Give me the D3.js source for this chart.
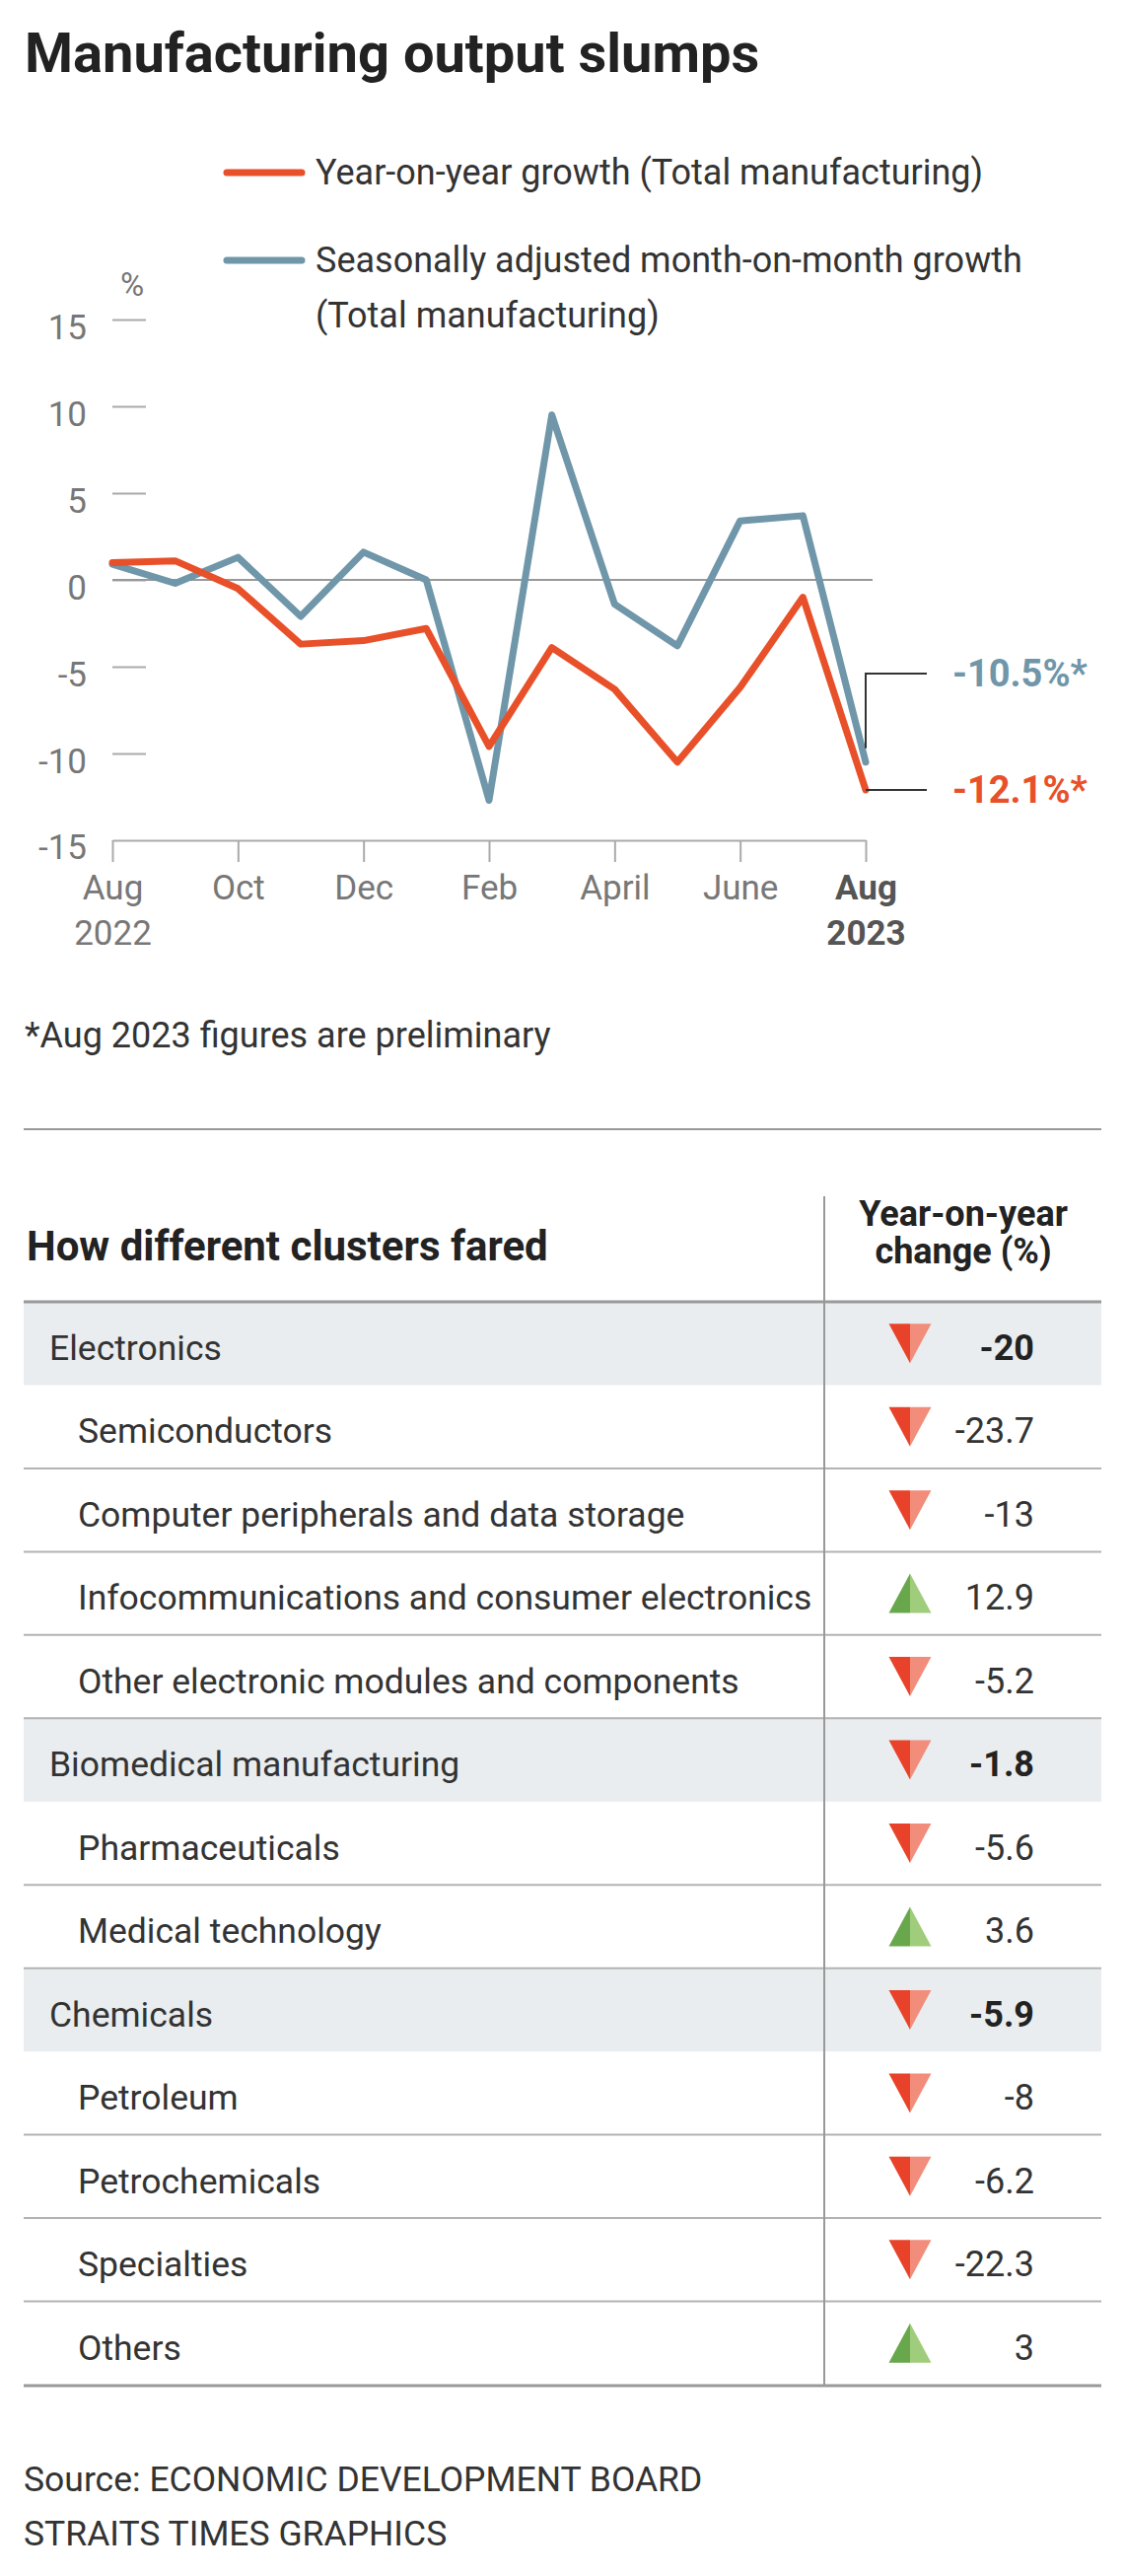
<!DOCTYPE html>
<html>
<head>
<meta charset="utf-8">
<script src="https://cdn.jsdelivr.net/npm/d3@7"></script>
<style>
  body { margin: 0; background: #fff; }
  text { font-family: Roboto, "Noto Sans", sans-serif; }
</style>
</head>
<body>
<svg id="chart" width="1140" height="2612"></svg>
<script>
// dati
const months = ["2022-08", "2022-09", "2022-10", "2022-11", "2022-12", "2023-01", "2023-02",
                "2023-03", "2023-04", "2023-05", "2023-06", "2023-07", "2023-08"];
const yoyGrowth = [1.0, 1.1, -0.5, -3.7, -3.5, -2.8, -9.6, -3.9, -6.3, -10.5, -6.2, -1.0, -12.1];
const momGrowth = [0.9, -0.2, 1.3, -2.1, 1.6, 0.0, -12.7, 9.5, -1.4, -3.8, 3.4, 3.7, -10.5];
const yTicks = [15, 10, 5, 0, -5, -10];
const xTickMonths = ["2022-08", "2022-10", "2022-12", "2023-02", "2023-04", "2023-06", "2023-08"];
const xTickLabels = [["Aug", "2022"], ["Oct"], ["Dec"], ["Feb"], ["April"], ["June"], ["Aug", "2023"]];

const clusters = ["Electronics", "Semiconductors", "Computer peripherals and data storage",
                  "Infocommunications and consumer electronics", "Other electronic modules and components",
                  "Biomedical manufacturing", "Pharmaceuticals", "Medical technology",
                  "Chemicals", "Petroleum", "Petrochemicals", "Specialties", "Others"];
const changes = [-20, -23.7, -13, 12.9, -5.2, -1.8, -5.6, 3.6, -5.9, -8, -6.2, -22.3, 3];
const isCluster = [true, false, false, false, false, true, false, false, true, false, false, false, false];

const ORANGE = "#e8502a";
const BLUE = "#6f96a9";

// numeri col trattino normale, come nell'originale
const fmt = v => String(v);
const fmt1 = v => v.toFixed(1);

const svg = d3.select("#chart");
svg.append("rect").attr("width", 1140).attr("height", 2612).attr("fill", "#fff");

/* titolo */
svg.append("text")
    .attr("x", 25).attr("y", 73)
    .attr("font-size", 56).attr("font-weight", 700).attr("fill", "#222")
    .text("Manufacturing output slumps");

/* legenda */
const legend = svg.append("g");
const legendItems = [
    { color: ORANGE, y: 175, lines: ["Year-on-year growth (Total manufacturing)"] },
    { color: BLUE, y: 264, lines: ["Seasonally adjusted month-on-month growth", "(Total manufacturing)"] }
];
legendItems.forEach(item => {
    legend.append("line")
        .attr("x1", 230).attr("x2", 306)
        .attr("y1", item.y).attr("y2", item.y)
        .attr("stroke", item.color).attr("stroke-width", 7).attr("stroke-linecap", "round");
    item.lines.forEach((l, i) => {
        legend.append("text")
            .attr("x", 320).attr("y", item.y + 12 + i * 56)
            .attr("font-size", 36).attr("fill", "#333")
            .text(l);
    });
});

/* scale */
const x = d3.scalePoint().domain(months).range([114, 878]);
const y = d3.scaleLinear().domain([-15, 15]).range([852, 324]);

/* asse Y: trattini corti e etichette */
const yAxis = svg.append("g")
    .attr("transform", "translate(114,0)")
    .call(d3.axisRight(y).tickValues(yTicks).tickSize(34).tickFormat(fmt));
yAxis.select(".domain").remove();
yAxis.selectAll(".tick line").attr("stroke", "#aaa").attr("stroke-width", 2);
yAxis.selectAll(".tick text")
    .attr("x", -26).attr("dy", "0.55em")
    .attr("text-anchor", "end")
    .attr("font-size", 35).attr("fill", "#777")
    .attr("font-family", "Roboto, sans-serif");

// etichetta -15 allineata all'asse X
svg.append("text")
    .attr("x", 88).attr("y", y(-15) + 19)
    .attr("text-anchor", "end").attr("font-size", 35).attr("fill", "#777")
    .text(fmt(-15));

svg.append("text")
    .attr("x", 134).attr("y", 300)
    .attr("text-anchor", "middle").attr("font-size", 33).attr("fill", "#777")
    .text("%");

/* asse X */
const xAxis = svg.append("g")
    .attr("transform", `translate(0,${y(-15)})`)
    .call(d3.axisBottom(x).tickValues(xTickMonths).tickSize(22).tickSizeOuter(0).tickFormat(""));
xAxis.select(".domain").attr("stroke", "#aaa").attr("stroke-width", 2);
xAxis.selectAll(".tick line").attr("stroke", "#aaa").attr("stroke-width", 2);
xAxis.selectAll(".tick").each(function (d, i) {
    const lbl = xTickLabels[i];
    const last = i === xTickLabels.length - 1;
    const t = d3.select(this).append("text")
        .attr("text-anchor", "middle")
        .attr("font-size", 35)
        .attr("font-weight", last ? 700 : 400)
        .attr("fill", last ? "#555" : "#777");
    lbl.forEach((s, j) => {
        t.append("tspan").attr("x", 0).attr("y", 60 + j * 46).text(s);
    });
});

/* linea dello zero */
svg.append("line")
    .attr("x1", 114).attr("x2", 885)
    .attr("y1", y(0)).attr("y2", y(0))
    .attr("stroke", "#999").attr("stroke-width", 2);

/* serie */
const line = d3.line()
    .x((d, i) => x(months[i]))
    .y(d => y(d));

svg.append("path")
    .datum(momGrowth)
    .attr("d", line)
    .attr("fill", "none").attr("stroke", BLUE)
    .attr("stroke-width", 7).attr("stroke-linejoin", "round").attr("stroke-linecap", "round");

svg.append("path")
    .datum(yoyGrowth)
    .attr("d", line)
    .attr("fill", "none").attr("stroke", ORANGE)
    .attr("stroke-width", 7).attr("stroke-linejoin", "round").attr("stroke-linecap", "round");

/* etichette finali con linee guida */
const lastMonth = months[months.length - 1];
const lastMom = momGrowth[momGrowth.length - 1];
const lastYoy = yoyGrowth[yoyGrowth.length - 1];
const xe = x(lastMonth);
const blueLabelY = y(-5.4);

svg.append("path")
    .attr("d", `M${xe},${y(lastMom) - 14}V${blueLabelY}H${xe + 62}`)
    .attr("fill", "none").attr("stroke", "#333").attr("stroke-width", 2);
svg.append("path")
    .attr("d", `M${xe},${y(lastYoy)}H${xe + 62}`)
    .attr("fill", "none").attr("stroke", "#333").attr("stroke-width", 2);

svg.append("text")
    .attr("x", 966).attr("y", blueLabelY + 13)
    .attr("font-size", 38).attr("font-weight", 700).attr("fill", BLUE)
    .text(`${fmt1(lastMom)}%*`);
svg.append("text")
    .attr("x", 966).attr("y", y(lastYoy) + 13)
    .attr("font-size", 38).attr("font-weight", 700).attr("fill", ORANGE)
    .text(`${fmt1(lastYoy)}%*`);

/* nota */
svg.append("text")
    .attr("x", 25).attr("y", 1062)
    .attr("font-size", 36).attr("fill", "#333")
    .text("*Aug 2023 figures are preliminary");

svg.append("line")
    .attr("x1", 24).attr("x2", 1117).attr("y1", 1145).attr("y2", 1145)
    .attr("stroke", "#999").attr("stroke-width", 2);

/* tabella */
const rows = d3.scaleBand().domain(clusters).range([1320, 2418]);
const table = svg.append("g");

table.append("text")
    .attr("x", 27).attr("y", 1278)
    .attr("font-size", 42).attr("font-weight", 700).attr("fill", "#222")
    .text("How different clusters fared");

const head = table.append("text")
    .attr("text-anchor", "middle")
    .attr("font-size", 36).attr("font-weight", 700).attr("fill", "#222");
head.append("tspan").attr("x", 977).attr("y", 1243).text("Year-on-year");
head.append("tspan").attr("x", 977).attr("y", 1281).text("change (%)");

const row = table.selectAll(".row")
    .data(clusters)
    .enter()
    .append("g")
    .attr("class", "row")
    .attr("transform", d => `translate(0,${rows(d)})`);

row.filter((d, i) => isCluster[i])
    .append("rect")
    .attr("x", 24).attr("width", 1093)
    .attr("height", rows.bandwidth())
    .attr("fill", "#e9edef");

// separatori, tranne sotto le righe evidenziate
row.filter((d, i) => i > 0 && !isCluster[i - 1])
    .append("line")
    .attr("x1", 24).attr("x2", 1117)
    .attr("stroke", "#b3b3b3").attr("stroke-width", 2);

row.append("text")
    .attr("x", (d, i) => isCluster[i] ? 50 : 79)
    .attr("y", 59)
    .attr("font-size", 35.5).attr("fill", "#333")
    .text(d => d);

row.each(function (d, i) {
    const g = d3.select(this);
    const cx = 923, cy = rows.bandwidth() / 2, hw = 21.5, hh = 20;
    const down = changes[i] < 0;
    if (down) {
        g.append("path").attr("d", `M${cx - hw},${cy - hh}L${cx},${cy - hh}L${cx},${cy + hh}Z`).attr("fill", "#e8432a");
        g.append("path").attr("d", `M${cx},${cy - hh}L${cx + hw},${cy - hh}L${cx},${cy + hh}Z`).attr("fill", "#f28d7b");
    } else {
        g.append("path").attr("d", `M${cx - hw},${cy + hh}L${cx},${cy + hh}L${cx},${cy - hh}Z`).attr("fill", "#69a74c");
        g.append("path").attr("d", `M${cx},${cy + hh}L${cx + hw},${cy + hh}L${cx},${cy - hh}Z`).attr("fill", "#a0cd7c");
    }
});

row.append("text")
    .attr("x", 1049).attr("y", 59)
    .attr("text-anchor", "end")
    .attr("font-size", 36)
    .attr("font-weight", (d, i) => isCluster[i] ? 700 : 400)
    .attr("fill", (d, i) => isCluster[i] ? "#222" : "#333")
    .text((d, i) => fmt(changes[i]));

// linee principali della tabella
table.append("line")
    .attr("x1", 24).attr("x2", 1117).attr("y1", 1320).attr("y2", 1320)
    .attr("stroke", "#999").attr("stroke-width", 3);
table.append("line")
    .attr("x1", 24).attr("x2", 1117).attr("y1", 2419).attr("y2", 2419)
    .attr("stroke", "#999").attr("stroke-width", 3);
table.append("line")
    .attr("x1", 836).attr("x2", 836).attr("y1", 1213).attr("y2", 2419)
    .attr("stroke", "#999").attr("stroke-width", 2);

/* fonte */
svg.append("text")
    .attr("x", 24).attr("y", 2526)
    .attr("font-size", 35.5).attr("fill", "#333")
    .text("Source: ECONOMIC DEVELOPMENT BOARD");
svg.append("text")
    .attr("x", 24).attr("y", 2581)
    .attr("font-size", 35.5).attr("fill", "#333")
    .text("STRAITS TIMES GRAPHICS");
</script>
</body>
</html>
